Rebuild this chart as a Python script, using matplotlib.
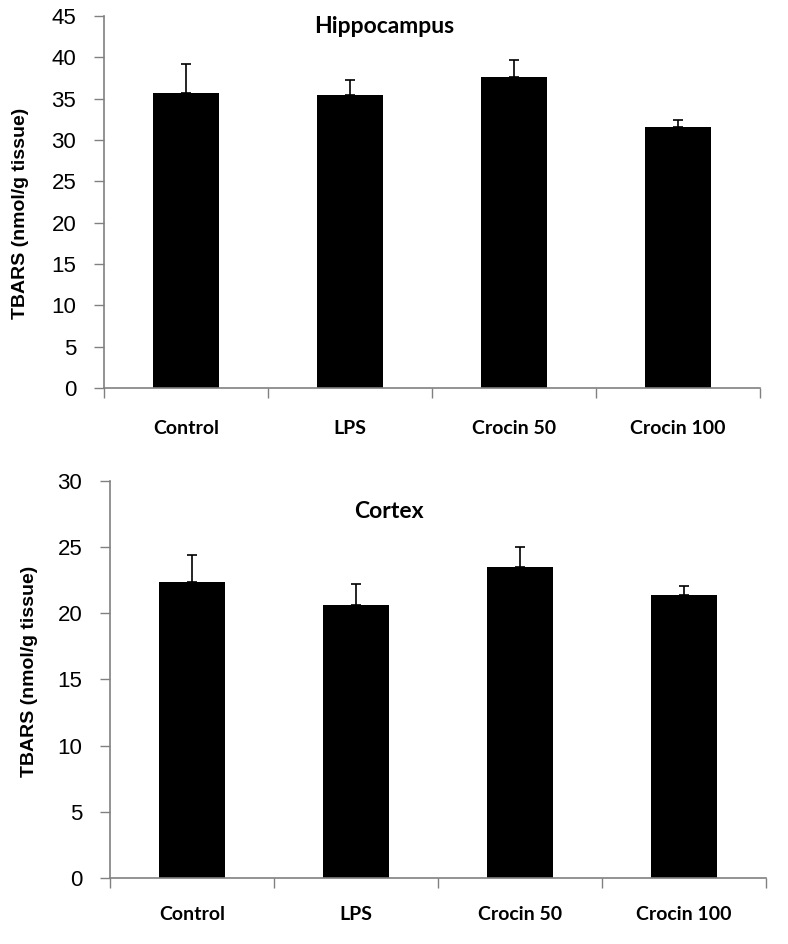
import matplotlib
matplotlib.use("Agg")
import matplotlib.pyplot as plt
from matplotlib import font_manager

names = {f.name for f in font_manager.fontManager.ttflist}
NARROW = ['Liberation Sans Narrow', 'DejaVu Sans'] if 'Liberation Sans Narrow' in names else ['Liberation Sans', 'DejaVu Sans']
CAL = ['Lato', 'DejaVu Sans']

categories = ["Control", "LPS", "Crocin 50", "Crocin 100"]
hippo_values = [35.7, 35.4, 37.6, 31.6]
hippo_errors = [3.5, 1.9, 2.1, 0.85]
cortex_values = [22.4, 20.6, 23.5, 21.4]
cortex_errors = [2.0, 1.6, 1.5, 0.65]
hippo_yticks = [0, 5, 10, 15, 20, 25, 30, 35, 40, 45]
cortex_yticks = [0, 5, 10, 15, 20, 25, 30]

fig = plt.figure(figsize=(7.88, 9.44), dpi=100)
ax1 = fig.add_axes([0.132, 0.589, 0.8325, 0.394])
ax2 = fig.add_axes([0.1396, 0.0699, 0.8325, 0.4206])

grey = "#808080"

def draw(ax, vals, errs, yticks, title, tx, ty, labpad):
    x = list(range(len(categories)))
    ax.bar(x, vals, width=0.4, color="black", zorder=2)
    ax.errorbar(x, vals, yerr=[[0]*len(errs), errs], fmt="none", ecolor="black",
                elinewidth=1.2, capsize=3.6, capthick=1.2, zorder=3)
    ax.set_xlim(-0.5, len(categories) - 0.5)
    ax.set_ylim(yticks[0], yticks[-1])
    ax.set_yticks(yticks)
    ax.set_yticklabels([str(t) for t in yticks], fontfamily=NARROW, fontsize=16)
    ax.set_xticks([i + 0.5 for i in range(-1, len(categories))])
    ax.set_xticklabels([])
    ax.set_xticks(x, minor=True)
    ax.set_xticklabels(categories, minor=True, fontfamily=CAL, fontsize=14, fontweight="bold")
    ax.tick_params(axis="x", which="minor", length=0, pad=labpad)
    ax.tick_params(axis="x", which="major", length=7, color=grey, width=1)
    ax.tick_params(axis="y", length=7, color=grey, width=1, pad=13)
    for s in ["top", "right"]:
        ax.spines[s].set_visible(False)
    for s in ["left", "bottom"]:
        ax.spines[s].set_color(grey)
        ax.spines[s].set_linewidth(1.2)
    ax.set_ylabel("TBARS (nmol/g tissue)", fontfamily=["Liberation Sans", "DejaVu Sans"],
                  fontsize=14, fontweight="bold")
    ax.text(tx, ty, title, transform=ax.transAxes, ha="center", va="center",
            fontfamily=CAL, fontsize=16.5, fontweight="bold")

draw(ax1, hippo_values, hippo_errors, hippo_yticks, "Hippocampus", 0.427, 0.973, 23)
draw(ax2, cortex_values, cortex_errors, cortex_yticks, "Cortex", 0.425, 0.922, 20)
ax1.yaxis.set_label_coords(-0.114, 0.47)
ax2.yaxis.set_label_coords(-0.110, 0.52)

fig.savefig("out.png", dpi=100)
